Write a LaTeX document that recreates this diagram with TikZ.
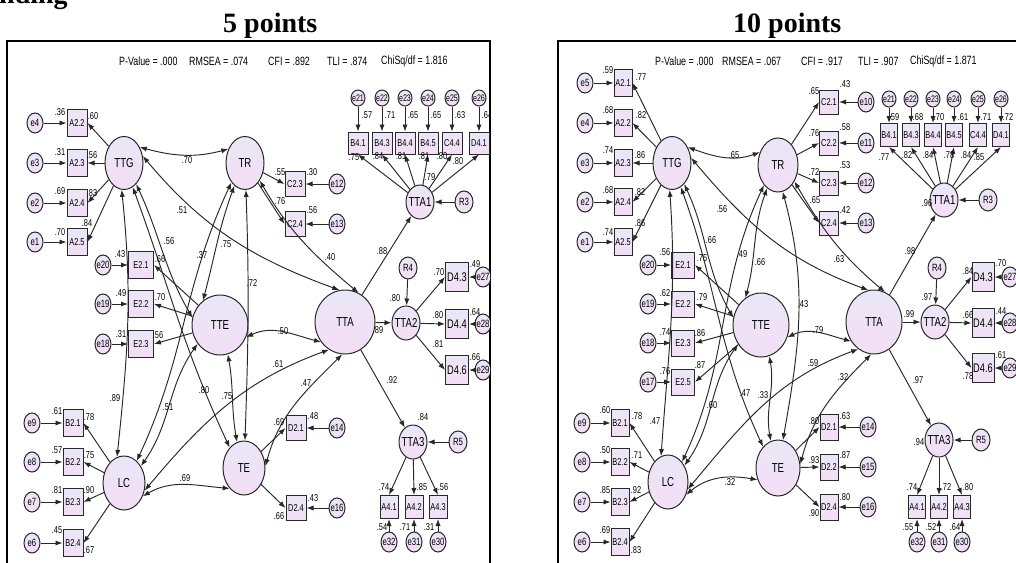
\documentclass[tikz,border=0pt]{standalone}
\usepackage{fontspec}
\setmainfont{Liberation Serif}
\newfontfamily\nar[FakeStretch=0.74]{Liberation Sans}
\usetikzlibrary{shapes.geometric,arrows.meta}
\definecolor{lavA}{RGB}{234,231,247}
\definecolor{lavB}{RGB}{243,222,245}
\definecolor{ln}{RGB}{40,40,40}
\newcommand\z[1]{\makebox[0pt]{#1}}
\newcommand\fs[1]{\nar\fontsize{#1}{#1}\selectfont}
\begin{document}
\begin{tikzpicture}[x=1pt,y=1pt,
 base/.style={draw=ln,line width=1pt,top color=lavA,bottom color=lavB,inner sep=0pt},
 err/.style={base,ellipse,minimum width=16pt,minimum height=20pt,font=\fs{10.5}},
 serr/.style={base,ellipse,minimum width=14pt,minimum height=16pt,font=\fs{9.5}},
 obs/.style={base,rectangle,minimum width=20pt,minimum height=27pt,font=\fs{10}},
 lat/.style={base,ellipse,font=\fs{13}},
 lbl/.style={inner sep=0pt,font=\fs{10}},
 stat/.style={inner sep=0pt,anchor=west,font=\fs{12}},
 ar/.style={draw=ln,line width=0.95pt,-{Latex[length=7pt,width=5.2pt]}},
 dar/.style={draw=ln,line width=0.95pt,{Latex[length=7pt,width=5.2pt]}-{Latex[length=7pt,width=5.2pt]}},
 ttl/.style={inner sep=0pt,anchor=base west,font=\bfseries\fontsize{28}{28}\selectfont}]
\fill[white] (0,0) rectangle (1016,-562);
\useasboundingbox (0,0) rectangle (1016,-562);
% titles
\node[ttl] (t0) at (-1,-4) {nding};
\node[ttl] (t1) at (223,-32) {5 points};
\node[ttl] (t2) at (733,-32) {10 points};
% frames
\draw[line width=1.4pt] (7,-580) -- (7,-41) -- (490,-41) -- (490,-580);
\draw[line width=1.4pt] (558,-580) -- (558,-41) -- (1030,-41);
% stats
\node[stat] (s1) at (119,-61) {P-Value = .000};
\node[stat] (s2) at (189,-61) {RMSEA = .074};
\node[stat] (s3) at (268,-61) {CFI = .892};
\node[stat] (s4) at (327,-61) {TLI = .874};
\node[stat] (s5) at (381,-61) {ChiSq/df = 1.816};
\node[stat] (r1) at (655,-61) {P-Value = .000};
\node[stat] (r2) at (722,-61) {RMSEA = .067};
\node[stat] (r3) at (801,-61) {CFI = .917};
\node[stat] (r4) at (858,-61) {TLI = .907};
\node[stat] (r5) at (910,-61) {ChiSq/df = 1.871};

%================ LEFT PANEL
\begin{scope}
\clip (0,0) rectangle (490,-562);
\node[lat,minimum width=38pt,minimum height=53pt] (LTTG) at (124,-163) {\z{TTG}};
\node[lat,minimum width=38pt,minimum height=53pt] (LTR) at (245,-163) {\z{TR}};
\node[lat,minimum width=56pt,minimum height=60pt] (LTTE) at (220,-325) {\z{TTE}};
\node[lat,minimum width=60pt,minimum height=64pt] (LTTA) at (345,-322) {\z{TTA}};
\node[lat,minimum width=42pt,minimum height=54pt] (LLC) at (124,-483) {\z{LC}};
\node[lat,minimum width=42pt,minimum height=54pt] (LTE) at (244,-468) {\z{TE}};
\node[lat,minimum width=28pt,minimum height=34pt] (LTTA1) at (420,-202) {\z{TTA1}};
\node[lat,minimum width=28pt,minimum height=34pt] (LTTA2) at (406,-323) {\z{TTA2}};
\node[lat,minimum width=28pt,minimum height=34pt] (LTTA3) at (413,-442) {\z{TTA3}};
\node[err,minimum width=18pt,minimum height=22pt] (LR3) at (464,-202) {\z{R3}};
\node[err,minimum width=18pt,minimum height=22pt] (LR4) at (408,-268) {\z{R4}};
\node[err,minimum width=18pt,minimum height=22pt] (LR5) at (458,-442) {\z{R5}};
\foreach \t/\y/\e [count=\i] in {A2.2/123/e4,A2.3/163/e3,A2.4/203/e2,A2.5/242/e1}{
 \node[err] (LeA\i) at (35,-\y) {\z{\e}};
 \node[obs] (LA\i) at (77,-\y) {\z{\t}};
 \draw[ar] (LeA\i) -- (LA\i);
 \draw[ar] (LTTG) -- (LA\i.east);}
\foreach \t/\y/\e [count=\i] in {C2.3/184/e12,C2.4/224/e13}{
 \node[obs,minimum height=25pt] (LC\i) at (295,-\y) {\z{\t}};
 \node[err] (LeC\i) at (337,-\y) {\z{\e}};
 \draw[ar] (LeC\i) -- (LC\i);
 \draw[ar] (LTR) -- (LC\i.west);}
\foreach \t/\x/\e [count=\i] in {B4.1/358/e21,B4.3/382/e22,B4.4/405/e23,B4.5/428/e24,C4.4/452/e25,D4.1/479/e26}{
 \node[serr] (LeB\i) at (\x,-98) {\z{\e}};
 \node[obs,minimum height=22pt] (LB\i) at (\x,-143) {\z{\t}};
 \draw[ar] (LeB\i) -- (LB\i);
 \draw[ar] (LTTA1) -- (LB\i.south);}
\foreach \t/\y/\e [count=\i] in {E2.1/265/e20,E2.2/304/e19,E2.3/344/e18}{
 \node[err] (LeE\i) at (103,-\y) {\z{\e}};
 \node[obs,minimum width=25pt] (LE\i) at (141,-\y) {\z{\t}};
 \draw[ar] (LeE\i) -- (LE\i);
 \draw[ar] (LTTE) -- (LE\i.east);}
\foreach \t/\y/\e [count=\i] in {D4.3/277/e27,D4.4/324/e28,D4.6/370/e29}{
 \node[obs,minimum width=23pt,minimum height=29pt,font=\fs{12.5}] (LD\i) at (457,-\y) {\z{\t}};
 \node[err] (LeD\i) at (483,-\y) {\z{\e}};
 \draw[ar] (LeD\i) -- (LD\i);
 \draw[ar] (LTTA2) -- (LD\i.west);}
\foreach \t/\y/\e [count=\i] in {B2.1/423/e9,B2.2/462/e8,B2.3/502/e7,B2.4/543/e6}{
 \node[err] (LeL\i) at (32,-\y) {\z{\e}};
 \node[obs] (LL\i) at (73,-\y) {\z{\t}};
 \draw[ar] (LeL\i) -- (LL\i);
 \draw[ar] (LLC) -- (LL\i.east);}
\foreach \t/\y/\e [count=\i] in {D2.1/428/e14,D2.4/508/e16}{
 \node[obs,minimum height=25pt] (LDD\i) at (296,-\y) {\z{\t}};
 \node[err] (LeDD\i) at (337,-\y) {\z{\e}};
 \draw[ar] (LeDD\i) -- (LDD\i);
 \draw[ar] (LTE) -- (LDD\i.west);}
\foreach \t/\x/\e [count=\i] in {A4.1/389/e32,A4.2/414/e31,A4.3/438/e30}{
 \node[obs,minimum width=18pt,minimum height=23pt] (LF\i) at (\x,-507) {\z{\t}};
 \node[err] (LeF\i) at (\x,-542) {\z{\e}};
 \draw[ar] (LeF\i) -- (LF\i);
 \draw[ar] (LTTA3) -- (LF\i.north);}
\draw[ar] (LTTA) -- (LTTA1);
\draw[ar] (LTTA) -- (LTTA2);
\draw[ar] (LTTA) -- (LTTA3);
\draw[ar] (LR3) -- (LTTA1);
\draw[ar] (LR4) -- (LTTA2);
\draw[ar] (LR5) -- (LTTA3);
% correlations
\draw[dar] (LTTG.45) to[out=-15,in=-165] (LTR.140);
\draw[dar] (LTTG.20) to[out=-50,in=160] (LTTA.100);
\draw[dar] (LTR.-50) to[out=-60,in=140] (LTTA.65);
\draw[dar] (LTTE.-25) to[out=25,in=165] (LTTA.-140);
\draw[dar] (LLC.-20) to[out=50,in=-160] (LTTA.-120);
\draw[dar] (LTE.5) to[out=75,in=-135] (LTTA.-95);
\draw[dar] (LLC.-35) to[out=30,in=175] (LTE.-125);
\draw[dar] (LTTG.-95) to[out=-84,in=84] (LLC.105);
\draw[dar] (LTTG.-60) to[out=-65,in=120] (LTTE.165);
\draw[dar] (LTTG.-70) to[out=-70,in=115] (LTE.125);
\draw[dar] (LTR.-115) to[out=-110,in=75] (LTTE.125);
\draw[dar] (LTR.-125) to[out=-115,in=65] (LLC.60);
\draw[dar] (LTR.-88) to[out=-88,in=88] (LTE.88);
\draw[dar] (LTTE.-140) to[out=-125,in=55] (LLC.45);
\draw[dar] (LTTE.-75) to[out=-80,in=100] (LTE.105);
\foreach \x/\y/\t [count=\i] in {60/112/.36,93/116/.60,60/152/.31,92/155/.56,60/191/.69,92/193/.83,60/232/.70,87/223/.84,
 367/115/.57,390/115/.71,413/115/.65,436/115/.65,460/115/.63,487/115/.64,
 354/157/.75,378/156/.84,401/156/.81,424/156/.81,442/156/.80,458/161/.80,430/177/.79,
 280/172/.55,312/172/.30,280/201/.76,312/210/.56,
 120/254/.43,160/259/.66,121/293/.49,160/297/.70,121/334/.31,158/335/.56,
 182/210/.51,169/241/.56,202/255/.37,226/244/.75,252/283/.72,187/160/.70,
 330/257/.40,382/251/.88,395/298/.80,378/330/.89,
 439/272/.70,475/264/.49,438/315/.80,475/312/.64,438/344/.81,475/357/.66,
 283/331/.50,278/364/.61,306/383/.47,392/380/.92,
 57/411/.61,89/417/.78,57/450/.57,89/455/.75,57/490/.81,89/490/.90,57/530/.45,89/550/.67,
 115/398/.89,168/407/.51,204/390/.80,227/396/.75,185/478/.69,
 279/422/.69,313/416/.48,279/516/.66,313/498/.43,423/417/.84,
 384/487/.74,422/487/.85,443/487/.56,382/527/.54,405/527/.71,429/527/.31}
 \node[lbl] (la\i) at (\x,-\y) {\t};
\end{scope}

%================ RIGHT PANEL
\node[lat,minimum width=38pt,minimum height=53pt] (RTTG) at (672,-163) {\z{TTG}};
\node[lat,minimum width=40pt,minimum height=54pt] (RTR) at (778,-165) {\z{TR}};
\node[lat,minimum width=56pt,minimum height=64pt] (RTTE) at (761,-325) {\z{TTE}};
\node[lat,minimum width=56pt,minimum height=64pt] (RTTA) at (874,-322) {\z{TTA}};
\node[lat,minimum width=40pt,minimum height=54pt] (RLC) at (668,-482) {\z{LC}};
\node[lat,minimum width=44pt,minimum height=56pt] (RTE) at (778,-468) {\z{TE}};
\node[lat,minimum width=28pt,minimum height=34pt] (RTTA1) at (944,-200) {\z{TTA1}};
\node[lat,minimum width=28pt,minimum height=34pt] (RTTA2) at (935,-322) {\z{TTA2}};
\node[lat,minimum width=28pt,minimum height=34pt] (RTTA3) at (939,-440) {\z{TTA3}};
\node[err,minimum width=18pt,minimum height=22pt] (RR3) at (988,-200) {\z{R3}};
\node[err,minimum width=18pt,minimum height=22pt] (RR4) at (937,-268) {\z{R4}};
\node[err,minimum width=18pt,minimum height=22pt] (RR5) at (981,-440) {\z{R5}};
\foreach \t/\y/\e [count=\i] in {A2.1/83/e5,A2.2/123/e4,A2.3/163/e3,A2.4/202/e2,A2.5/242/e1}{
 \node[err] (ReA\i) at (585,-\y) {\z{\e}};
 \node[obs,minimum width=18pt] (RA\i) at (623,-\y) {\z{\t}};
 \draw[ar] (ReA\i) -- (RA\i);
 \draw[ar] (RTTG) -- (RA\i.east);}
\foreach \t/\y/\e [count=\i] in {C2.1/102/e10,C2.2/143/e11,C2.3/183/e12,C2.4/223/e13}{
 \node[obs,minimum width=19pt,minimum height=24pt] (RC\i) at (829,-\y) {\z{\t}};
 \node[err] (ReC\i) at (866,-\y) {\z{\e}};
 \draw[ar] (ReC\i) -- (RC\i);
 \draw[ar] (RTR) -- (RC\i.west);}
\foreach \t/\x/\e [count=\i] in {B4.1/889/e21,B4.3/911/e22,B4.4/933/e23,B4.5/954/e24,C4.4/978/e25,D4.1/1001/e26}{
 \node[serr] (ReB\i) at (\x,-99) {\z{\e}};
 \node[obs,minimum width=17pt,minimum height=23pt] (RB\i) at (\x,-135) {\z{\t}};
 \draw[ar] (ReB\i) -- (RB\i);
 \draw[ar] (RTTA1) -- (RB\i.south);}
\foreach \t/\y/\e [count=\i] in {E2.1/265/e20,E2.2/304/e19,E2.3/343/e18,E2.5/382/e17}{
 \node[err] (ReE\i) at (648,-\y) {\z{\e}};
 \node[obs,minimum width=23pt,minimum height=26pt] (RE\i) at (683,-\y) {\z{\t}};
 \draw[ar] (ReE\i) -- (RE\i);
 \draw[ar] (RTTE) -- (RE\i.east);}
\foreach \t/\y/\e [count=\i] in {D4.3/277/e27,D4.4/323/e28,D4.6/368/e29}{
 \node[obs,minimum width=22pt,minimum height=29pt,font=\fs{12.5}] (RD\i) at (983,-\y) {\z{\t}};
 \node[err] (ReD\i) at (1010,-\y) {\z{\e}};
 \draw[ar] (ReD\i) -- (RD\i);
 \draw[ar] (RTTA2) -- (RD\i.west);}
\foreach \t/\y/\e [count=\i] in {B2.1/423/e9,B2.2/462/e8,B2.3/502/e7,B2.4/542/e6}{
 \node[err] (ReL\i) at (582,-\y) {\z{\e}};
 \node[obs,minimum width=18pt] (RL\i) at (620,-\y) {\z{\t}};
 \draw[ar] (ReL\i) -- (RL\i);
 \draw[ar] (RLC) -- (RL\i.east);}
\foreach \t/\y/\e [count=\i] in {D2.1/427/e14,D2.2/467/e15,D2.4/507/e16}{
 \node[obs,minimum width=18pt,minimum height=26pt] (RDD\i) at (829,-\y) {\z{\t}};
 \node[err] (ReDD\i) at (868,-\y) {\z{\e}};
 \draw[ar] (ReDD\i) -- (RDD\i);
 \draw[ar] (RTE) -- (RDD\i.west);}
\foreach \t/\x/\e [count=\i] in {A4.1/917/e32,A4.2/939/e31,A4.3/962/e30}{
 \node[obs,minimum width=17pt,minimum height=23pt] (RF\i) at (\x,-507) {\z{\t}};
 \node[err] (ReF\i) at (\x,-542) {\z{\e}};
 \draw[ar] (ReF\i) -- (RF\i);
 \draw[ar] (RTTA3) -- (RF\i.north);}
\draw[ar] (RTTA) -- (RTTA1);
\draw[ar] (RTTA) -- (RTTA2);
\draw[ar] (RTTA) -- (RTTA3);
\draw[ar] (RR3) -- (RTTA1);
\draw[ar] (RR4) -- (RTTA2);
\draw[ar] (RR5) -- (RTTA3);
\draw[dar] (RTTG.45) to[out=-20,in=-160] (RTR.145);
\draw[dar] (RTTG.15) to[out=-50,in=160] (RTTA.100);
\draw[dar] (RTR.-45) to[out=-60,in=140] (RTTA.70);
\draw[dar] (RTTE.-25) to[out=25,in=165] (RTTA.-140);
\draw[dar] (RLC.-20) to[out=50,in=-160] (RTTA.-120);
\draw[dar] (RTE.10) to[out=75,in=-135] (RTTA.-95);
\draw[dar] (RLC.-35) to[out=40,in=170] (RTE.-150);
\draw[dar] (RTTG.-95) to[out=-86,in=86] (RLC.105);
\draw[dar] (RTTG.-60) to[out=-65,in=120] (RTTE.165);
\draw[dar] (RTTG.-70) to[out=-70,in=115] (RTE.125);
\draw[dar] (RTR.-115) to[out=-110,in=75] (RTTE.120);
\draw[dar] (RTR.-125) to[out=-115,in=65] (RLC.55);
\draw[dar] (RTR.-80) to[out=-75,in=80] (RTE.80);
\draw[dar] (RTTE.-140) to[out=-125,in=55] (RLC.45);
\draw[dar] (RTTE.-75) to[out=-80,in=100] (RTE.105);
\foreach \x/\y/\t [count=\i] in {608/70/.59,641/77/.77,608/110/.68,641/115/.82,608/150/.74,640/155/.86,608/190/.68,640/192/.82,608/232/.74,640/223/.86,
 734/155/.65,722/209/.56,
 814/91/.65,845/84/.43,814/133/.76,845/127/.58,814/172/.72,845/165/.53,815/200/.65,845/210/.42,
 894/117/.59,918/117/.68,939/117/.70,963/117/.61,986/117/.71,1008/117/.72,
 884/157/.77,907/155/.82,928/155/.84,949/155/.78,966/155/.84,979/157/.85,927/203/.96,
 665/252/.56,702/258/.75,665/293/.62,702/297/.79,665/332/.74,700/333/.86,665/371/.76,700/365/.87,
 711/240/.66,742/254/.49,760/262/.66,839/259/.63,803/304/.43,818/330/.79,813/363/.59,843/377/.32,
 910/251/.98,909/314/.99,927/297/.97,
 968/271/.84,1001/263/.70,968/315/.66,1001/311/.44,968/376/.78,1001/355/.61,918/380/.97,
 605/410/.60,637/416/.78,605/450/.50,637/455/.71,605/490/.85,636/490/.92,605/530/.69,636/550/.83,
 655/421/.47,712/405/.60,745/393/.47,763/395/.33,730/482/.32,
 814/421/.80,845/416/.63,814/460/.93,845/455/.87,814/513/.90,845/497/.80,919/442/.94,
 912/487/.74,946/487/.72,968/487/.80,908/527/.55,931/527/.52,955/527/.64}
 \node[lbl] (ra\i) at (\x,-\y) {\t};
\end{tikzpicture}
\end{document}
